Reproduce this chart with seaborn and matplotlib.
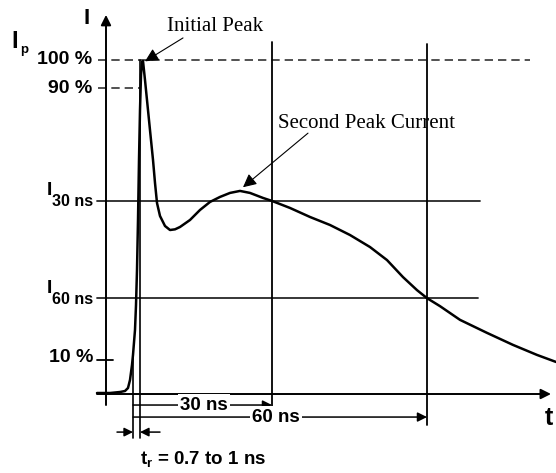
import matplotlib
matplotlib.use("Agg")
import matplotlib.pyplot as plt
import seaborn as sns
import pandas as pd

# ---- data (time in arbitrary drawing units, current in % of Ip) ----
t_units = [-43, -30, -20, -15, -12, -10, -8, -7, -5, -4, -3, -2, -1, 0, 1, 2, 3,
           5, 7, 10, 13, 15, 17, 20, 25, 30, 35, 40, 50, 60, 70, 80, 90, 100,
           110, 123, 132, 150, 170, 190, 210, 230, 247, 263, 277, 287, 300, 320,
           347, 373, 397, 416]
current_pct = [0.3, 0.3, 0.6, 0.9, 1.8, 4.2, 8.7, 11.7, 19.2, 26.6, 37.1, 52.1,
               70.1, 85.0, 95.5, 99.4, 99.7, 94.0, 88.0, 79.0, 70.1, 63.2, 57.2,
               53.3, 50.3, 49.1, 49.3, 50.0, 52.1, 55.1, 57.5, 59.0, 60.2, 60.8,
               60.2, 58.7, 57.8, 55.7, 53.0, 50.6, 47.6, 44.0, 40.1, 35.0, 31.1,
               28.7, 26.3, 22.2, 18.3, 14.7, 11.7, 9.6]
level_names = ["100 %", "90 %", "30 ns", "60 ns", "10 %"]
level_values = [100.0, 91.6, 57.8, 28.7, 10.2]
mark_names = ["tr_start", "t0", "30 ns", "60 ns"]
mark_times = [-7, 0, 132, 287]

df = pd.DataFrame({"t": t_units, "I": current_pct})
lev = dict(zip(level_names, level_values))
mk = dict(zip(mark_names, mark_times))

sns.set_theme(style="white")
plt.rcParams["mathtext.fontset"] = "custom"
plt.rcParams["mathtext.rm"] = "Liberation Sans:bold"
plt.rcParams["mathtext.it"] = "Liberation Sans:bold"
plt.rcParams["mathtext.bf"] = "Liberation Sans:bold"

fig = plt.figure(figsize=(5.56, 4.73), dpi=100)
ax = fig.add_axes([0, 0, 1, 1])
ax.set_xlim(-140, 416)
ax.set_ylim(-23.65, 117.96)
ax.axis("off")

K = "black"
SANS = dict(family="Liberation Sans", fontweight="bold", color=K)
SERIF = dict(family="Liberation Serif", color=K)


def arrow(x0, y0, x1, y1, lw=1.3, ms=14):
    ax.annotate("", xy=(x1, y1), xytext=(x0, y0),
                arrowprops=dict(arrowstyle="-|>", color=K, lw=lw,
                                mutation_scale=ms, shrinkA=0, shrinkB=0))


# axes with arrows
arrow(-34, -3.3, -34, 113.5, lw=1.4, ms=15)
arrow(-43, 0, 411, 0, lw=1.4, ms=15)

# reference levels
ax.plot([-42, 390], [lev["100 %"]] * 2, ls=(0, (5, 3)), color="0.2", lw=1.2)
ax.plot([-42, mk["t0"]], [lev["90 %"]] * 2, ls=(0, (5, 3)), color="0.2", lw=1.2)
ax.plot([-43, 340], [lev["30 ns"]] * 2, color="0.15", lw=1.3)
ax.plot([-43, 338], [lev["60 ns"]] * 2, color="0.15", lw=1.3)
ax.plot([-43, -27], [lev["10 %"]] * 2, color=K, lw=1.3)

# vertical time markers
ax.plot([mk["t0"]] * 2, [100, -13.2], color=K, lw=1.2)
ax.plot([mk["tr_start"]] * 2, [11.7, -13.2], color=K, lw=1.2)
ax.plot([mk["30 ns"]] * 2, [105.4, -4.2], color=K, lw=1.3)
ax.plot([mk["60 ns"]] * 2, [104.8, -9.3], color=K, lw=1.3)

# waveform
sns.lineplot(data=df, x="t", y="I", ax=ax, color=K, lw=1.8, sort=False,
             estimator=None, solid_joinstyle="round")
ax.set_xlabel("")
ax.set_ylabel("")

# dimension arrows
arrow(mk["tr_start"], -3.3, mk["30 ns"], -3.3, lw=1.1, ms=14)
ax.text(64, -3.3, "30 ns", ha="center", va="center", fontsize=13.5,
        bbox=dict(facecolor="white", edgecolor="none", pad=1.5), **SANS)
arrow(mk["tr_start"], -6.9, mk["60 ns"], -6.9, lw=1.1, ms=14)
ax.text(136, -6.9, "60 ns", ha="center", va="center", fontsize=13.5,
        bbox=dict(facecolor="white", edgecolor="none", pad=1.5), **SANS)
arrow(-23, -11.4, mk["tr_start"], -11.4, lw=1.1, ms=13)
arrow(20, -11.4, mk["t0"], -11.4, lw=1.1, ms=13)
ax.text(63, -19.6, r"$t_r$ = 0.7 to 1 ns", ha="center", va="center",
        fontsize=13.5, **SANS)

# axis labels
ax.text(-53, 112.3, "I", ha="center", va="center", fontsize=16, **SANS)
ax.text(409, -7.2, "t", ha="center", va="center", fontsize=18, **SANS)
ax.text(-125, 105.5, "I", ha="center", va="center", fontsize=17, **SANS)
ax.text(-115.5, 103.0, "p", ha="center", va="center", fontsize=9.5, **SANS)

# level labels
ax.text(-48, lev["100 %"], "100 %", ha="right", va="center", fontsize=14, **SANS)
ax.text(-48, lev["90 %"], "90 %", ha="right", va="center", fontsize=14, **SANS)
ax.text(-47, lev["10 %"] + 0.6, "10 %", ha="right", va="center", fontsize=14, **SANS)
for name in ["30 ns", "60 ns"]:
    ax.text(-93, lev[name] + 3.0, "I", ha="left", va="center", fontsize=14, **SANS)
    ax.text(-47, lev[name] - 0.3, name, ha="right", va="center", fontsize=11.5, **SANS)

# annotations
ax.text(75, 109.9, "Initial Peak", ha="center", va="center", fontsize=15, **SERIF)
arrow(43, 106.6, 5, 99.6, lw=0.8, ms=20)
ax.text(227, 81.1, "Second Peak Current", ha="center", va="center", fontsize=15, **SERIF)
arrow(168, 78.1, 103, 61.9, lw=0.8, ms=20)

fig.savefig("out.png", dpi=100)
